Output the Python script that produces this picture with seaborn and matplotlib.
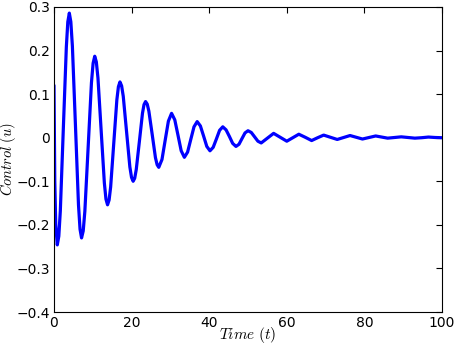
import matplotlib
matplotlib.use("Agg")
import matplotlib.pyplot as plt
import seaborn as sns
import pandas as pd

# Values
time = [0.0, 0.2, 0.45, 0.85,
        1.24, 1.63, 2.4, 3.18, 3.56, 3.95,
        4.34, 4.74, 5.53, 6.31, 6.71, 7.1,
        7.53, 7.95, 8.8, 9.65, 10.08, 10.5,
        10.91, 11.33, 12.15, 12.98, 13.39, 13.8,
        14.2, 14.6, 15.4, 16.2, 16.6, 17.0,
        17.43, 17.85, 18.7, 19.55, 19.98, 20.4,
        20.8, 21.2, 22.0, 22.8, 23.2, 23.6,
        24.03, 24.45, 25.3, 26.15, 26.58, 27.0,
        27.83, 28.65, 29.48, 30.3,
        31.13, 31.95, 32.78, 33.6,
        34.43, 35.25, 36.08, 36.9,
        37.73, 38.55, 39.38, 40.2,
        41.03, 41.85, 42.68, 43.5,
        44.35, 45.2, 46.05, 46.9,
        47.68, 48.45, 49.23, 50.0,
        50.85, 51.7, 52.55, 53.4,
        55.0, 56.6, 58.3, 60.0, 61.55, 63.1, 64.75, 66.4, 67.95, 69.5,
        71.25, 73.0, 74.65, 76.3, 77.9, 79.5, 81.2, 82.9, 84.45, 86.0,
        87.75, 89.5, 91.25, 93.0, 94.75, 96.5, 98.25, 100.0]
control = [0.12, -0.10, -0.20, -0.246,
           -0.226, -0.168, 0.02, 0.208, 0.266, 0.286,
           0.266, 0.210, 0.028, -0.154, -0.210, -0.230,
           -0.214, -0.169, -0.022, 0.126, 0.171, 0.187,
           0.174, 0.137, 0.017, -0.104, -0.141, -0.154,
           -0.143, -0.113, -0.013, 0.087, 0.117, 0.128,
           0.119, 0.095, 0.014, -0.067, -0.091, -0.100,
           -0.093, -0.073, -0.009, 0.056, 0.076, 0.083,
           0.077, 0.061, 0.008, -0.046, -0.062, -0.068,
           -0.050, -0.006, 0.038, 0.056,
           0.041, 0.006, -0.030, -0.045,
           -0.033, -0.004, 0.025, 0.037,
           0.027, 0.004, -0.020, -0.030,
           -0.022, -0.003, 0.017, 0.025,
           0.018, 0.003, -0.013, -0.020,
           -0.015, -0.002, 0.011, 0.016,
           0.012, 0.002, -0.008, -0.012,
           -0.001, 0.010, 0.001, -0.008, 0.0, 0.008, 0.001, -0.0065, 0.0, 0.006,
           0.001, -0.004, 0.0005, 0.005, 0.001, -0.003, 0.0005, 0.004, 0.0015, -0.001,
           0.0005, 0.002, 0.0005, -0.001, 0.0, 0.0015, 0.0005, 0.0]
xticks = [0, 20, 40, 60, 80, 100]
yticks = [-0.4, -0.3, -0.2, -0.1, 0, 0.1, 0.2, 0.3]
xtick_labels = ["0", "20", "40", "60", "80", "100"]
ytick_labels = ["\u22120.4", "\u22120.3", "\u22120.2", "\u22120.1", "0", "0.1", "0.2", "0.3"]

sns.set_theme(style="white")
plt.rcParams["font.family"] = ["DejaVu Sans"]
plt.rcParams["mathtext.fontset"] = "cm"

df = pd.DataFrame({"t": time, "u": control})

fig = plt.figure(figsize=(4.54, 3.5), dpi=100)
ax = fig.add_axes([54 / 454, 1 - 312 / 350, (442 - 54) / 454, (312 - 7) / 350])
sns.lineplot(data=df, x="t", y="u", ax=ax, color="#0000ff", linewidth=2.3,
             estimator=None, sort=False)

ax.set_xlim(0, 100)
ax.set_ylim(-0.4, 0.3)
ax.set_xticks(xticks)
ax.set_xticklabels(xtick_labels)
ax.set_yticks(yticks)
ax.set_yticklabels(ytick_labels)
ax.tick_params(direction="in", length=4, width=0.8, colors="black",
               labelcolor="black", top=True, right=True, labelsize=10, pad=3)
for s in ax.spines.values():
    s.set_visible(True)
    s.set_color("black")
    s.set_linewidth(0.8)
ax.set_xlabel(r"$Time\ (t)$", fontsize=11, color="black", va="center")
ax.xaxis.set_label_coords(0.5, -(335 - 312) / 305)
ax.set_ylabel(r"$Control\ (u)$", fontsize=10.5, color="black", va="center")
ax.yaxis.set_label_coords(-(54 - 8.5) / 388, 0.5)
ax.grid(False)

fig.savefig("out.png", dpi=100, facecolor="white")
